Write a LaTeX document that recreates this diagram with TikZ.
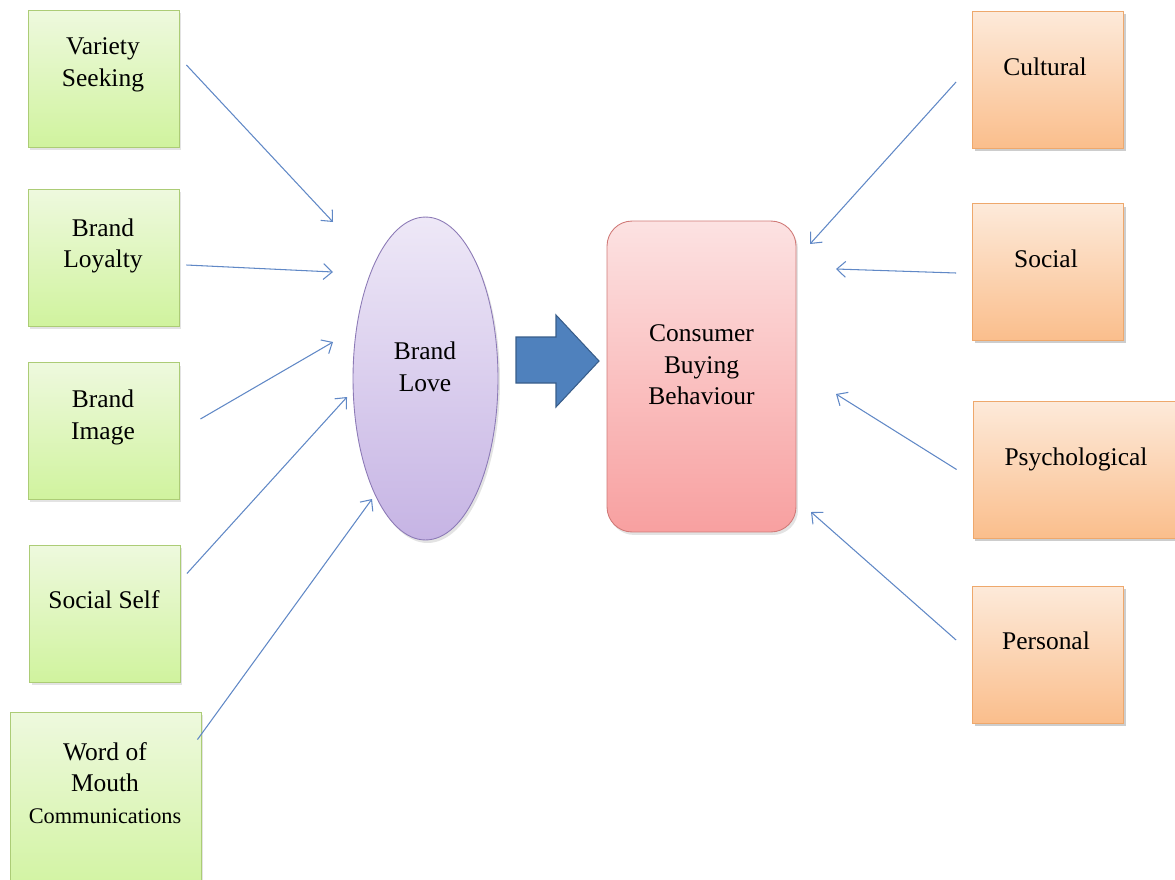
\documentclass[tikz,border=0pt]{standalone}
\usepackage{fontspec}
\setmainfont{Liberation Serif}
\usepackage{tikz}
\usetikzlibrary{shapes.geometric}
\usetikzlibrary{arrows.meta}
\usetikzlibrary{positioning}
\usetikzlibrary{shadows}
\definecolor{drivtop}{RGB}{238,249,222}
\definecolor{drivbot}{RGB}{208,243,158}
\definecolor{drivline}{RGB}{172,204,118}
\definecolor{facttop}{RGB}{253,234,218}
\definecolor{factbot}{RGB}{250,190,140}
\definecolor{factline}{RGB}{238,168,108}
\definecolor{lovetop}{RGB}{238,232,247}
\definecolor{lovebot}{RGB}{198,180,228}
\definecolor{loveline}{RGB}{140,122,182}
\definecolor{cbbtop}{RGB}{252,226,226}
\definecolor{cbbbot}{RGB}{248,160,160}
\definecolor{cbbline}{RGB}{208,122,120}
\definecolor{linkblue}{RGB}{96,136,198}
\definecolor{flowblue}{RGB}{79,129,189}
\definecolor{flowline}{RGB}{56,93,138}
\newcommand\mytext[1]{\fontsize{12.7}{16}\selectfont #1}
\newcommand\mybox[5][]{%
  \node[driver,#1] (#2) at (#3) {};
  \node[boxtext] (#2-t) at (#4) {#5};
}

\begin{document}
\begin{tikzpicture}[
x=0.02cm, y=-0.02cm,
boxshadow/.style={drop shadow={shadow xshift=0.04cm, shadow yshift=-0.06cm, opacity=0.22}},
driver/.style={
  rectangle,
  draw=drivline,
  line width=0.5pt,
  top color=drivtop,
  bottom color=drivbot,
  minimum width=3.02cm,
  minimum height=2.74cm,
  boxshadow},
factor/.style={driver, draw=factline, top color=facttop, bottom color=factbot},
boxtext/.style={align=center, font=\fontsize{14.5}{18}\selectfont, inner sep=0pt},
link/.style={draw=linkblue, line width=0.6pt, -{Straight Barb[length=5pt,width=9pt]}}
]
\clip (0,0) rectangle (1175,879);

% brand love drivers
\mybox[]{vs}{103.5,78.5}{103,65}{Variety\\Seeking}
\mybox[]{bl}{103.5,257.5}{103,246}{Brand\\Loyalty}
\mybox[]{bi}{103.5,431}{103,417.5}{Brand\\Image}
\mybox[]{ss}{105,613.5}{104,600}{Social Self}
\mybox[minimum width=3.82cm, minimum height=3.76cm]{wm}{105.5,806}{105,783}{Word of\\Mouth\\\mytext{Communications}}

% buying behaviour factors
\mybox[factor]{cu}{1048,79.5}{1045,67}{Cultural}
\mybox[factor]{so}{1048,272}{1046,259}{Social}
\mybox[factor, minimum width=4.24cm]{ps}{1079,469.5}{1076,459}{Psychological}
\mybox[factor]{pe}{1048,654.5}{1046,641}{Personal}

% centre
\node[ellipse, draw=loveline, line width=0.5pt, top color=lovetop, bottom color=lovebot,
  minimum width=2.9cm, minimum height=6.46cm, boxshadow] (love) at (425.5,378.5) {};
\node[boxtext] (love-t) at (425,366.5) {Brand\\Love};
\node[rectangle, rounded corners=0.5cm, draw=cbbline, line width=0.5pt, top color=cbbtop, bottom color=cbbbot,
  minimum width=3.78cm, minimum height=6.22cm, boxshadow] (cbb) at (701.5,376.5) {};
\node[boxtext] (cbb-t) at (701.5,365) {Consumer\\Buying\\Behaviour};

\draw[fill=flowblue, draw=flowline, line width=0.6pt]
  (516,337) -- (556,337) -- (556,315) -- (599,361) -- (556,407) -- (556,383) -- (516,383) -- cycle;

\coordinate (love-in1) at (333,222);
\coordinate (love-in2) at (333,272);
\coordinate (love-in3) at (333,342);
\coordinate (love-in4) at (347,397);
\coordinate (love-in5) at (372,499);
\coordinate (cbb-in1) at (810,244);
\coordinate (cbb-in2) at (836,269);
\coordinate (cbb-in3) at (836,394);
\coordinate (cbb-in4) at (811,512);

\draw[link] ([shift={(7,-13.5)}]vs.east) -- (love-in1);
\draw[link] ([shift={(7,7.5)}]bl.east) -- (love-in2);
\draw[link] ([shift={(21,-12)}]bi.east) -- (love-in3);
\draw[link] ([shift={(6,-40)}]ss.east) -- (love-in4);
\draw[link] ([shift={(-4,28)}]wm.north east) -- (love-in5);
\draw[link] ([shift={(-16,2.5)}]cu.west) -- (cbb-in1);
\draw[link] ([shift={(-16,1)}]so.west) -- (cbb-in2);
\draw[link] ([shift={(-16,0)}]ps.west) -- (cbb-in3);
\draw[link] ([shift={(-16,-14.5)}]pe.west) -- (cbb-in4);
\end{tikzpicture}
\end{document}
